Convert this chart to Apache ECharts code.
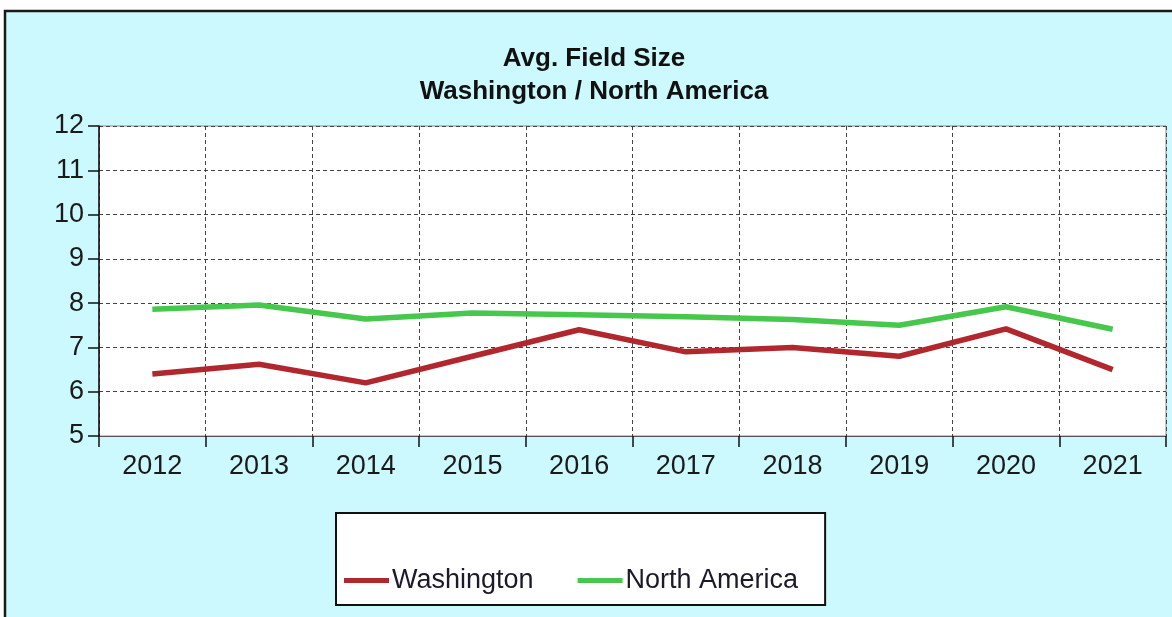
<!DOCTYPE html>
<html>
<head>
<meta charset="utf-8">
<script src="https://cdn.jsdelivr.net/npm/echarts@6/dist/echarts.min.js"></script>
<style>
html,body{margin:0;padding:0;background:#fff;}
#chart{width:1172px;height:617px;}
</style>
</head>
<body>
<div id="chart"></div>
<script>
var categories = ['2012','2013','2014','2015','2016','2017','2018','2019','2020','2021'];
var washington = [6.4, 6.62, 6.2, 6.8, 7.4, 6.9, 7.0, 6.8, 7.42, 6.5];
var northAmerica = [7.86, 7.96, 7.64, 7.78, 7.74, 7.69, 7.63, 7.5, 7.92, 7.41];
var yTicks = {min: 5, max: 12, interval: 1};
var titleLines = ['Avg. Field Size', 'Washington / North America'];

var chart = echarts.init(document.getElementById('chart'), null, {renderer: 'canvas'});
var font = "'Liberation Sans', Arial, sans-serif";
chart.setOption({
  backgroundColor: '#ffffff',
  animation: false,
  graphic: [
    {type: 'rect', z: -10, shape: {x: 5, y: 11, width: 1200, height: 700},
     style: {fill: '#ccf9fd', stroke: '#1a1a1a', lineWidth: 2.5}},
    {type: 'text', z: 10, x: 594, y: 42,
     style: {text: titleLines.join('\n'), textAlign: 'center', textVerticalAlign: 'top',
       font: "bold 26px 'Liberation Sans', Arial, sans-serif", lineHeight: 33, fill: '#111'}}
  ],
  grid: {left: 99, right: 6, top: 126, bottom: 181, show: true,
         backgroundColor: '#ffffff', borderColor: '#8a8a8a', borderWidth: 1},
  legend: {
    left: 336, top: 513,
    backgroundColor: '#ffffff', borderColor: '#111', borderWidth: 2,
    padding: [54, 27, 11, 8],
    itemWidth: 45, itemHeight: 5, itemGap: 44,
    icon: 'rect',
    textStyle: {fontFamily: font, fontSize: 27, color: '#1a1a2a', padding: [0,0,0,-2]},
    data: ['Washington', 'North America']
  },
  xAxis: {
    type: 'category', data: categories, boundaryGap: true,
    axisLine: {lineStyle: {color: '#555', width: 1}},
    axisTick: {show: true, length: 11, lineStyle: {color: '#111', width: 1.5}},
    axisLabel: {fontFamily: font, fontSize: 27, color: '#1a1a1a', margin: 17},
    splitLine: {show: true, lineStyle: {color: '#444', type: [4, 3], width: 1}}
  },
  yAxis: {
    type: 'value', min: yTicks.min, max: yTicks.max, interval: yTicks.interval,
    axisLine: {show: true, lineStyle: {color: '#111', width: 1.5}},
    axisTick: {show: true, length: 11, lineStyle: {color: '#111', width: 1.5}},
    axisLabel: {fontFamily: font, fontSize: 27, color: '#1a1a1a', margin: 15},
    splitLine: {show: true, lineStyle: {color: '#444', type: [4, 3], width: 1}}
  },
  series: [
    {name: 'Washington', type: 'line', data: washington, showSymbol: false, symbol: 'none',
     itemStyle: {color: '#b0282e'}, lineStyle: {color: '#b0282e', width: 5.5}},
    {name: 'North America', type: 'line', data: northAmerica, showSymbol: false, symbol: 'none',
     itemStyle: {color: '#47c84c'}, lineStyle: {color: '#47c84c', width: 5.5}}
  ]
});
</script>
</body>
</html>
